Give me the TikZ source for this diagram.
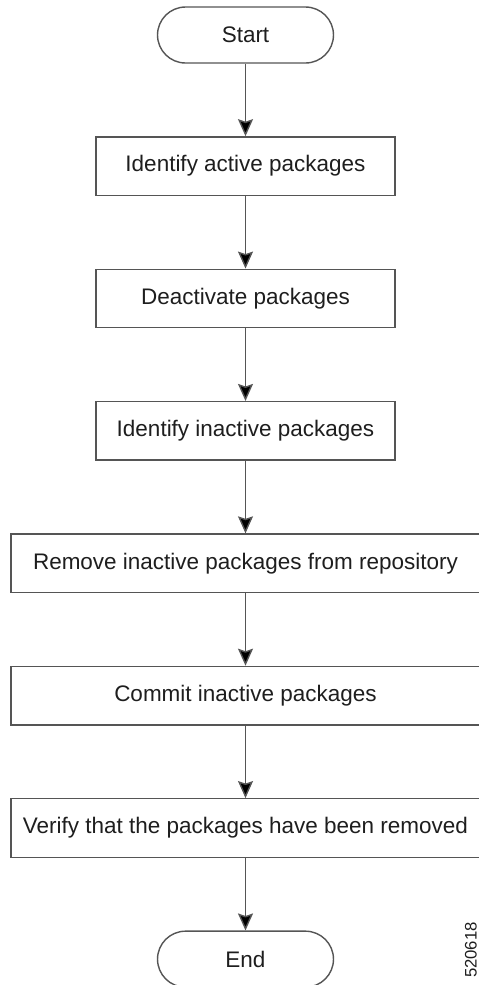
\documentclass[tikz,border=0pt]{standalone}
\usepackage{fontspec}
\setmainfont{Liberation Sans}
\usepackage{xcolor}
\usepackage{tikz}
\usetikzlibrary{arrows.meta, positioning}

\definecolor{linegray}{HTML}{555555}
\definecolor{textgray}{HTML}{1E1E1E}

\begin{document}
\begin{tikzpicture}[
    x=0.02cm, y=-0.02cm,
    node distance=1.45cm,
    terminal/.style={rectangle, draw=linegray, line width=0.8pt, rounded corners=0.56cm, minimum width=3.52cm, minimum height=1.12cm, inner sep=0pt, text=textgray, font=\fontsize{12.8}{15}\selectfont},
    stepbox/.style={rectangle, draw=linegray, line width=0.8pt, minimum width=5.98cm, minimum height=1.17cm, inner sep=0pt, text=textgray, font=\fontsize{12.8}{15}\selectfont},
    widebox/.style={stepbox, minimum width=9.38cm},
    arrow/.style={draw=linegray, line width=0.8pt, -{Stealth[length=0.34cm, width=0.3cm, inset=0.05cm, fill=black]}}
  ]
  \useasboundingbox (0,0) rectangle (479,985);

  \node (start) [terminal] at (245.5,35) {Start};
  \node (active) [stepbox, below=of start] {Identify active packages};
  \node (deact) [stepbox, below=of active] {Deactivate packages};
  \node (inactive) [stepbox, below=of deact] {Identify inactive packages};
  \node (remove) [widebox, below=of inactive] {Remove inactive packages from repository};
  \node (commit) [widebox, below=of remove] {Commit inactive packages};
  \node (verify) [widebox, below=of commit] {Verify that the packages have been removed};
  \node (end) [terminal, below=of verify] {End};

  % figure number
  \node (figid) [rotate=90, text=textgray, inner sep=1pt, font=\fontsize{9.5}{11}\selectfont] at (471,950) {520618};

  \draw [arrow] (start) -- (active);
  \draw [arrow] (active) -- (deact);
  \draw [arrow] (deact) -- (inactive);
  \draw [arrow] (inactive) -- (remove);
  \draw [arrow] (remove) -- (commit);
  \draw [arrow] (commit) -- (verify);
  \draw [arrow] (verify) -- (end);
\end{tikzpicture}
\end{document}
